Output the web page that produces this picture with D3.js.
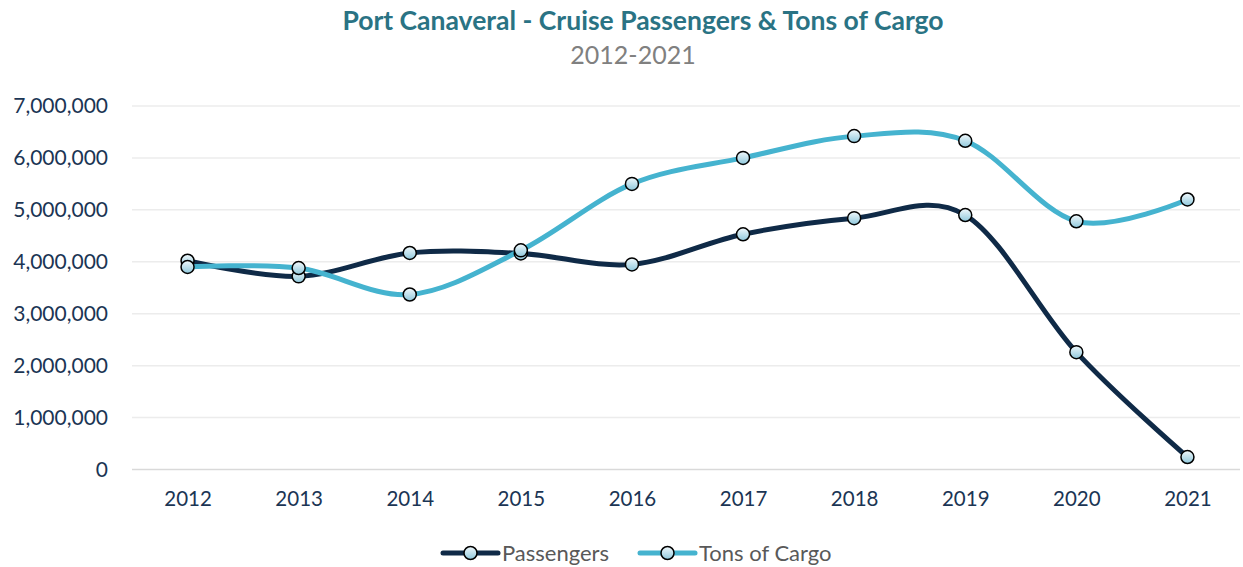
<html>
<head>
<meta charset="utf-8">
<script src="https://d3js.org/d3.v7.min.js"></script>
<style>
  body { margin: 0; background: #fff; }
  text { font-family: Lato, "Open Sans", sans-serif; }
</style>
</head>
<body>
<svg width="1243" height="567"></svg>
<script>
var years = ["2012","2013","2014","2015","2016","2017","2018","2019","2020","2021"];
var passengers = [4020000, 3720000, 4170000, 4160000, 3950000, 4530000, 4840000, 4900000, 2260000, 240000];
var cargo = [3900000, 3880000, 3370000, 4220000, 5500000, 6000000, 6420000, 6330000, 4780000, 5200000];
var yTicks = [0, 1000000, 2000000, 3000000, 4000000, 5000000, 6000000, 7000000];
var seriesNames = ["Passengers", "Tons of Cargo"];
var seriesColors = ["#0f2a47", "#45b3cf"];

var svg = d3.select("svg");

var x = d3.scalePoint().domain(years).range([132, 1243]).padding(0.5);
var y = d3.scaleLinear().domain([0, 7000000]).range([469.5, 106]);

// marker fill
var defs = svg.append("defs");
var grad = defs.append("linearGradient").attr("id", "mk")
  .attr("x1", 0).attr("y1", 0).attr("x2", 0).attr("y2", 1);
grad.append("stop").attr("offset", "0%").attr("stop-color", "#f2f9fc");
grad.append("stop").attr("offset", "100%").attr("stop-color", "#8fc8dc");

// title
svg.append("text").attr("x", 643).attr("y", 30).attr("text-anchor", "middle")
  .attr("font-size", 26.5).attr("font-weight", "bold").attr("fill", "#2a7384")
  .text("Port Canaveral - Cruise Passengers & Tons of Cargo");
svg.append("text").attr("x", 633).attr("y", 64).attr("text-anchor", "middle")
  .attr("font-size", 25).attr("fill", "#808080")
  .text("2012-2021");

// gridlines
svg.append("g").selectAll("line").data(yTicks).enter().append("line")
  .attr("x1", 132).attr("x2", 1240)
  .attr("y1", function(d){ return y(d); }).attr("y2", function(d){ return y(d); })
  .attr("stroke", function(d){ return d === 0 ? "#d9d9d9" : "#ececec"; })
  .attr("stroke-width", 1.5);

// y axis labels
var yAxis = d3.axisLeft(y).tickValues(yTicks).tickFormat(d3.format(",")).tickSize(0).tickPadding(0);
var gy = svg.append("g").attr("transform", "translate(108,0)").call(yAxis);
gy.select(".domain").remove();
gy.selectAll("text").attr("font-size", 21).attr("fill", "#1b3554")
  .style("font-family", "Lato, 'Open Sans', sans-serif");

// x axis labels
var xAxis = d3.axisBottom(x).tickSize(0).tickPadding(0);
var gx = svg.append("g").attr("transform", "translate(0,491)").call(xAxis);
gx.select(".domain").remove();
gx.selectAll("text").attr("font-size", 20.5).attr("fill", "#1b3554")
  .style("font-family", "Lato, 'Open Sans', sans-serif");

var line = d3.line()
  .x(function(d, i){ return x(years[i]); })
  .y(function(d){ return y(d); })
  .curve(d3.curveCatmullRom.alpha(0));

var allSeries = [passengers, cargo];
allSeries.forEach(function(vals, k){
  svg.append("path").datum(vals).attr("d", line)
    .attr("fill", "none").attr("stroke", seriesColors[k]).attr("stroke-width", 5)
    .attr("stroke-linecap", "round");
});
allSeries.forEach(function(vals){
  svg.append("g").selectAll("circle").data(vals).enter().append("circle")
    .attr("cx", function(d, i){ return x(years[i]); })
    .attr("cy", function(d){ return y(d); })
    .attr("r", 6.5).attr("fill", "url(#mk)").attr("stroke", "#000").attr("stroke-width", 1.5);
});

// legend
var legendX = [443, 640];
seriesNames.forEach(function(name, k){
  var g = svg.append("g").attr("transform", "translate(" + legendX[k] + ",553)");
  g.append("line").attr("x1", 0).attr("x2", 55).attr("y1", 0).attr("y2", 0)
    .attr("stroke", seriesColors[k]).attr("stroke-width", 5).attr("stroke-linecap", "round");
  g.append("circle").attr("cx", 27.5).attr("cy", 0).attr("r", 6.5)
    .attr("fill", "url(#mk)").attr("stroke", "#000").attr("stroke-width", 1.5);
  g.append("text").attr("x", 59).attr("y", 0).attr("dy", "0.35em")
    .attr("font-size", 22).attr("fill", "#595959").text(name);
});
</script>
</body>
</html>
